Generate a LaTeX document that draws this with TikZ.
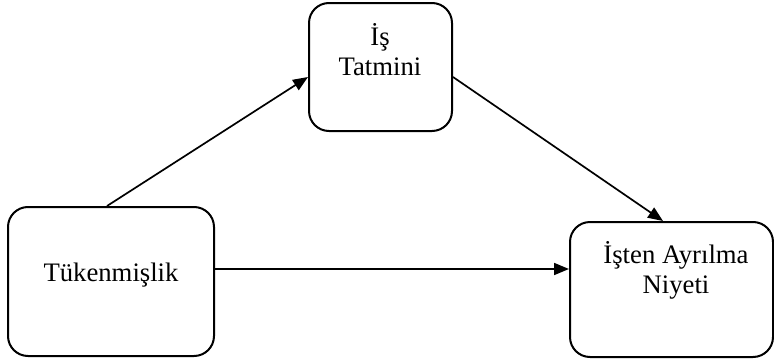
\documentclass[tikz,border=0pt]{standalone}
\usepackage{fontspec}
\setmainfont{Liberation Serif}
\usetikzlibrary{arrows.meta}
\begin{document}
\begin{tikzpicture}[x=1pt,y=1pt,
  box/.style={draw=black, line width=2pt, rounded corners=20pt, inner sep=0pt},
  lbl/.style={inner sep=0pt, align=center, font=\fontsize{26.7}{30}\selectfont, anchor=base},
  conn/.style={line width=1.7pt, -{Triangle[length=15pt,width=12pt]}}]
\useasboundingbox (0,0) rectangle (774,360);
\node[box, minimum width=206pt, minimum height=149pt] (tuk) at (111,78.5) {};
\node[box, minimum width=143pt, minimum height=128pt] (is) at (380.5,293) {};
\node[box, minimum width=203pt, minimum height=135pt] (ayr) at (671.5,70.5) {};
\node[lbl] (tukt) at (111,78.3) {Tükenmişlik};
\node[lbl] (ist) at (380,285) {İş\\Tatmini};
\node[lbl] (ayrt) at (676,67) {İşten Ayrılma\\Niyeti};
\draw[conn] ([xshift=-4pt]tuk.north) -- ([yshift=-10pt]is.west);
\draw[conn] ([yshift=-10pt]is.east) -- ([xshift=-8.5pt]ayr.north);
\draw[conn] ([yshift=12.5pt]tuk.east) -- ([yshift=20.5pt]ayr.west);
\end{tikzpicture}
\end{document}
